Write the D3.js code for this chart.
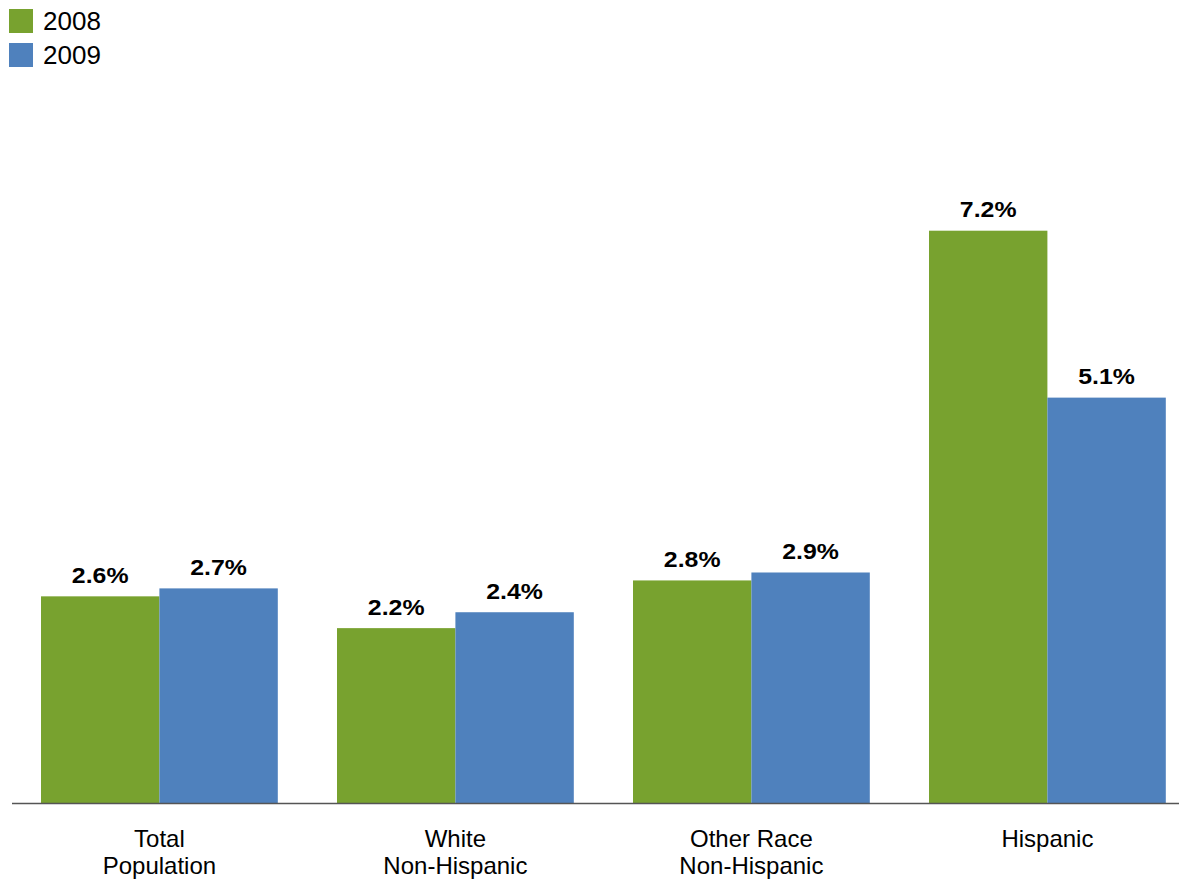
<!DOCTYPE html>
<html><head><meta charset="utf-8">
<script src="https://cdn.jsdelivr.net/npm/d3@7"></script>
<style>body{margin:0;background:#fff;}svg{display:block;font-family:"Liberation Sans",Arial,sans-serif;}</style>
</head><body>
<svg id="chart" width="1179" height="881"></svg>
<script>
const categories = [["Total","Population"],["White","Non-Hispanic"],["Other Race","Non-Hispanic"],["Hispanic"]];
const seriesNames = ["2008","2009"];
const values2008 = [2.6, 2.2, 2.8, 7.2];
const values2009 = [2.7, 2.4, 2.9, 5.1];
const colors = ["#78A22F","#4F81BD"];

const svg = d3.select("#chart");
const baseY = 803;
const y = d3.scaleLinear().domain([0, 7.2]).range([baseY, 230.7]);
const x0 = d3.scaleBand().domain(d3.range(categories.length)).range([11.4, 1195.4]).paddingInner(0.2).paddingOuter(0.1);
const x1 = d3.scaleBand().domain(seriesNames).range([0, x0.bandwidth()]);

const series = [values2008, values2009];
seriesNames.forEach((name, si) => {
  const g = svg.append("g");
  g.selectAll("rect").data(series[si]).join("rect")
    .attr("x", (d,i) => x0(i) + x1(name))
    .attr("y", d => y(d))
    .attr("width", x1.bandwidth())
    .attr("height", d => baseY - y(d))
    .attr("fill", colors[si]);
  g.selectAll("text").data(series[si]).join("text")
    .attr("x", (d,i) => x0(i) + x1(name) + x1.bandwidth()/2)
    .attr("y", d => y(d) - 13.5)
    .attr("text-anchor", "middle")
    .attr("font-weight", "bold")
    .attr("font-size", 22)
    .attr("fill", "#000")
    .attr("transform", function(d,i){ const cx = x0(i) + x1(name) + x1.bandwidth()/2; return `translate(${cx},0) scale(1.13,1) translate(${-cx},0)`; })
    .text(d => d.toFixed(1) + "%");
});

// axis baseline
svg.append("line").attr("x1", 12).attr("x2", 1179).attr("y1", baseY + 0.5).attr("y2", baseY + 0.5)
  .attr("stroke", "#555").attr("stroke-width", 1.5);

// category labels
categories.forEach((lines, i) => {
  const t = svg.append("text").attr("text-anchor", "middle").attr("font-size", 24).attr("fill", "#000");
  lines.forEach((ln, j) => {
    t.append("tspan").attr("x", x0(i) + x0.bandwidth()/2).attr("y", 846.5 + j*27.5).text(ln);
  });
});

// legend
seriesNames.forEach((name, i) => {
  svg.append("rect").attr("x", 9).attr("y", 9 + i*34).attr("width", 24).attr("height", 24).attr("fill", colors[i]);
  svg.append("text").attr("x", 43).attr("y", 29.5 + i*34).attr("font-size", 26).attr("fill", "#000").text(name);
});
</script>
</body></html>
